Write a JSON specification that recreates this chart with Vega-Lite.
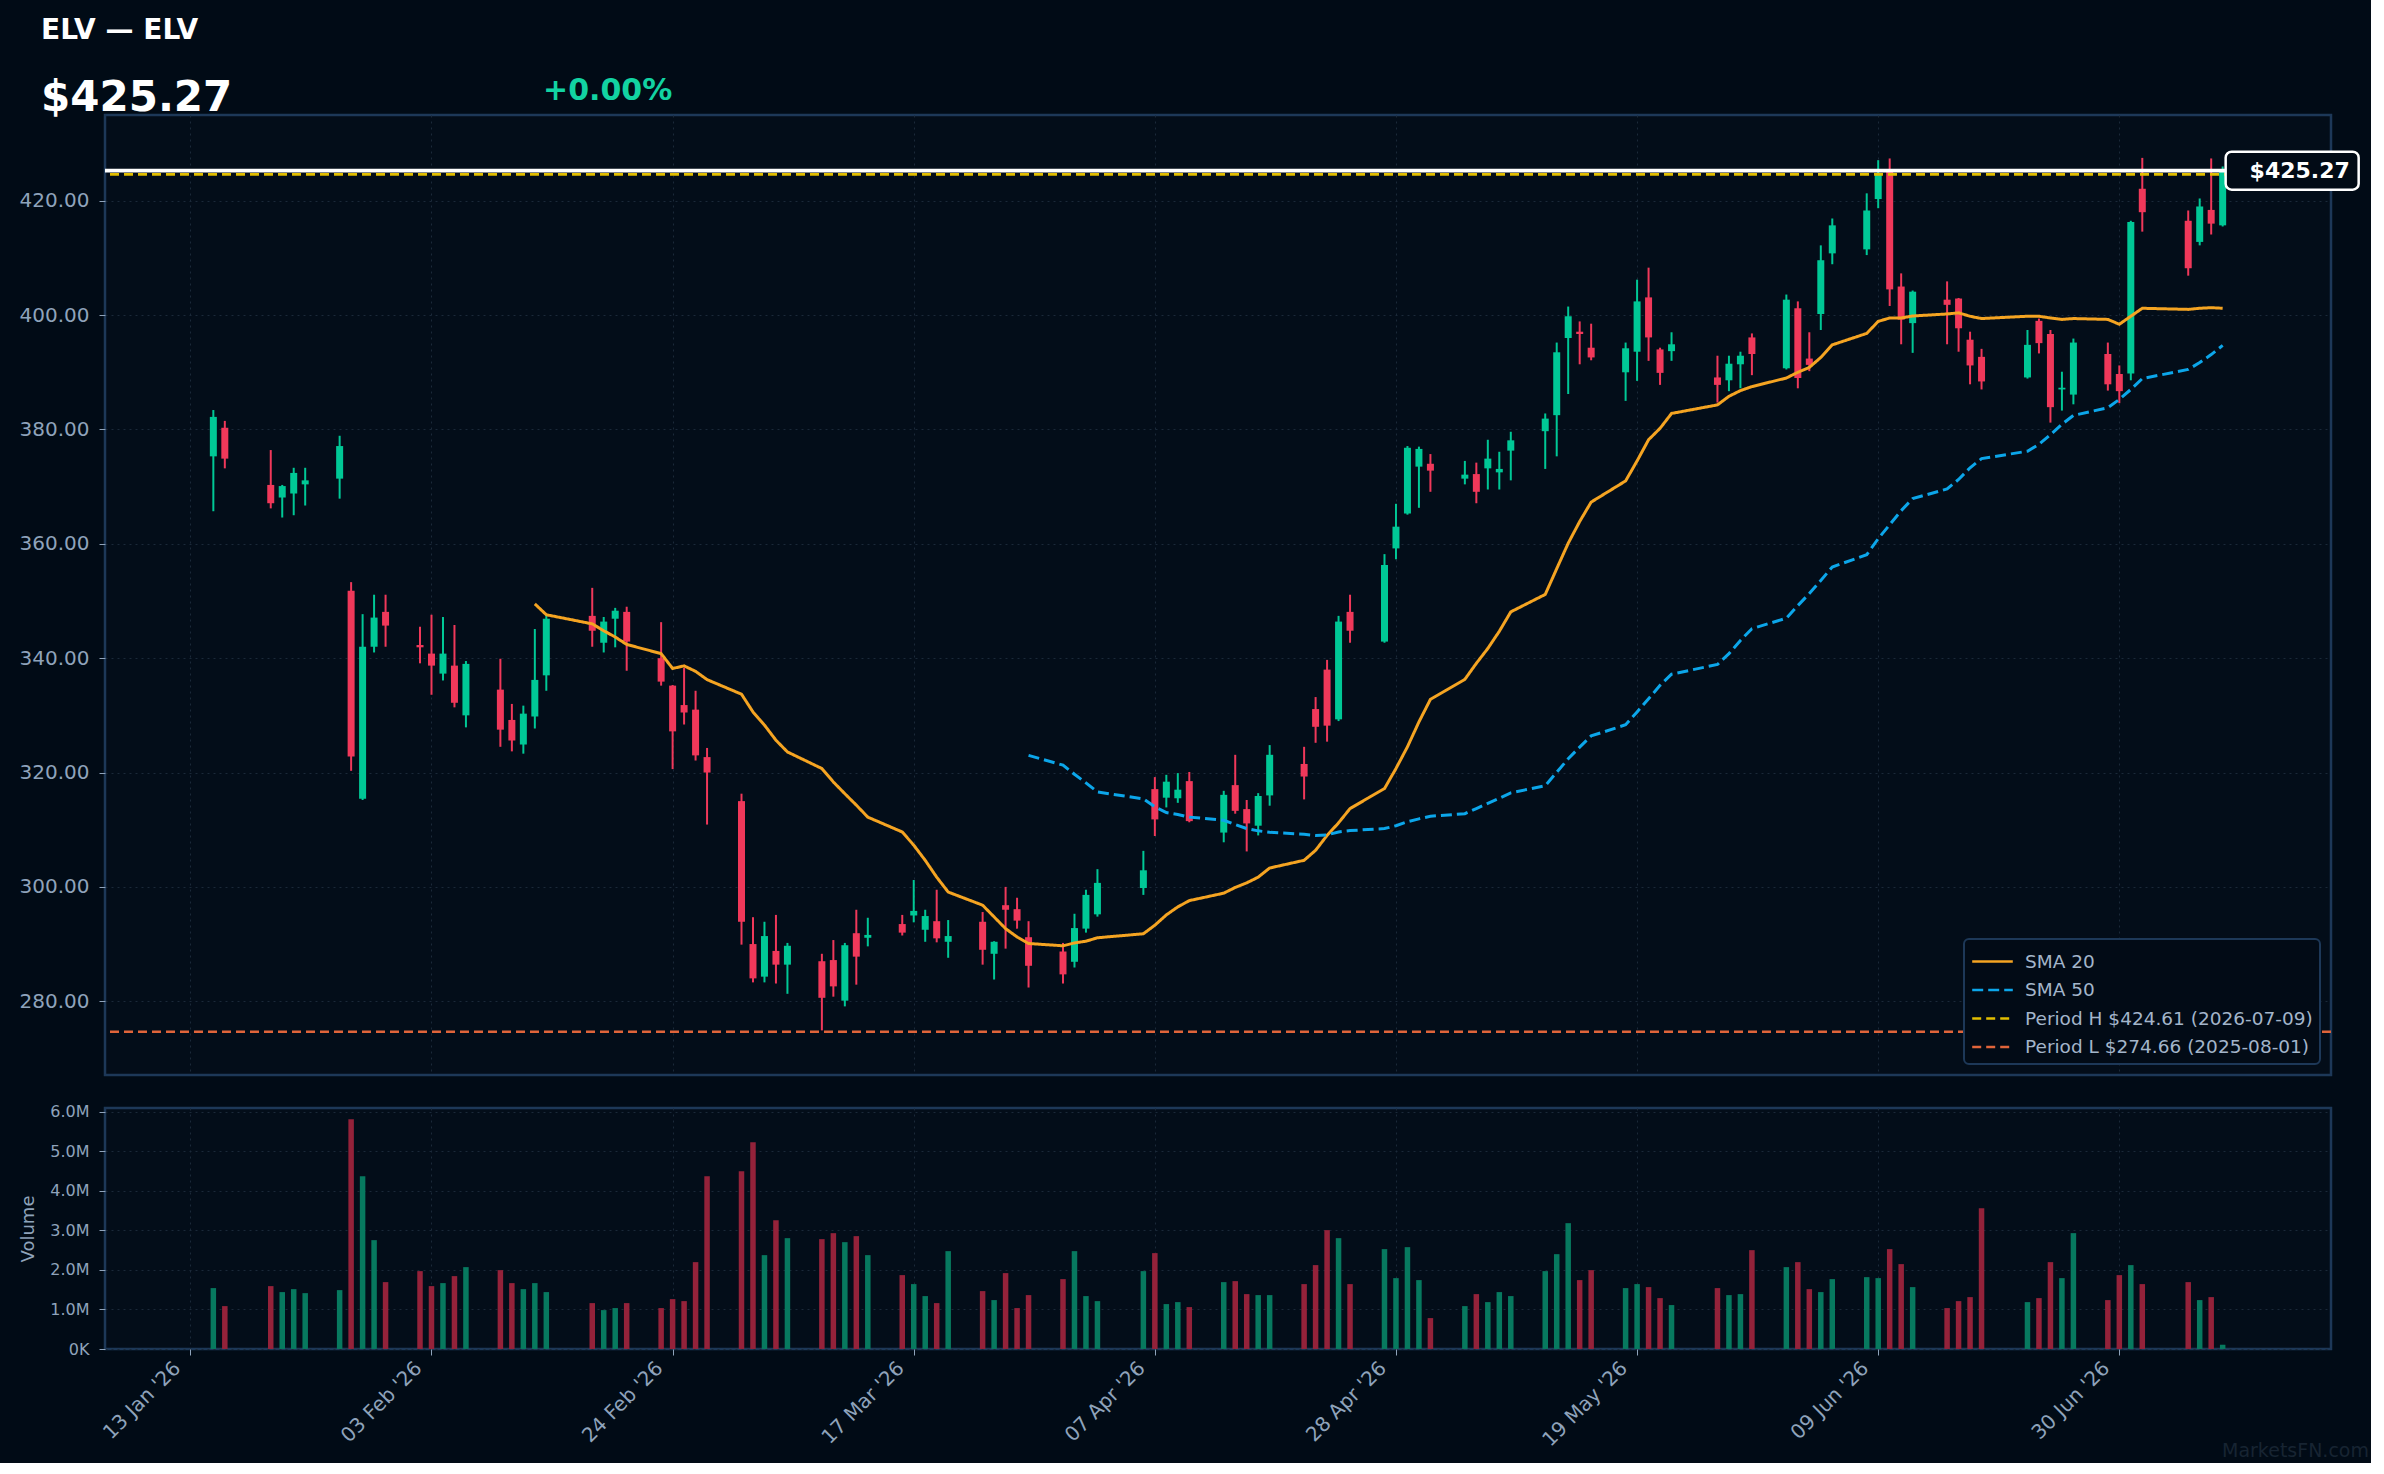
{
  "$schema": "https://vega.github.io/schema/vega-lite/v6.json",
  "background": "#010b16",
  "padding": {"left": 17, "top": 16, "right": 0, "bottom": 0},
  "title": {"text": "ELV — ELV", "subtitle": "$425.27", "anchor": "start", "frame": "group", "dx": -64, "offset": -44, "color": "#ffffff", "font": "DejaVu Sans", "fontSize": 28, "fontWeight": "bold", "subtitleColor": "#ffffff", "subtitleFont": "DejaVu Sans", "subtitleFontSize": 42, "subtitleFontWeight": "bold", "subtitlePadding": 33},
  "datasets": {
    "candles": [
      {"date":"2026-01-15","open":375.3,"high":383.4,"low":365.7,"close":382.2,"volume":1539000},
      {"date":"2026-01-16","open":380.3,"high":381.5,"low":373.2,"close":374.9,"volume":1084000},
      {"date":"2026-01-20","open":370.3,"high":376.4,"low":366.2,"close":367.1,"volume":1589000},
      {"date":"2026-01-21","open":368.1,"high":370.3,"low":364.6,"close":370.1,"volume":1438000},
      {"date":"2026-01-22","open":368.8,"high":373.3,"low":365.0,"close":372.4,"volume":1513000},
      {"date":"2026-01-23","open":370.4,"high":373.3,"low":366.7,"close":371.1,"volume":1412000},
      {"date":"2026-01-26","open":371.4,"high":378.9,"low":367.9,"close":377.1,"volume":1488000},
      {"date":"2026-01-27","open":351.8,"high":353.3,"low":320.3,"close":322.8,"volume":5806000},
      {"date":"2026-01-28","open":315.4,"high":347.7,"low":315.2,"close":342.0,"volume":4367000},
      {"date":"2026-01-29","open":342.0,"high":351.1,"low":341.0,"close":347.1,"volume":2751000},
      {"date":"2026-01-30","open":348.1,"high":351.1,"low":342.0,"close":345.7,"volume":1690000},
      {"date":"2026-02-02","open":342.3,"high":345.5,"low":339.1,"close":341.9,"volume":1968000},
      {"date":"2026-02-03","open":340.8,"high":347.6,"low":333.6,"close":338.7,"volume":1589000},
      {"date":"2026-02-04","open":337.3,"high":347.2,"low":336.1,"close":340.8,"volume":1665000},
      {"date":"2026-02-05","open":338.7,"high":345.8,"low":331.4,"close":332.2,"volume":1842000},
      {"date":"2026-02-06","open":330.0,"high":339.5,"low":327.9,"close":339.0,"volume":2069000},
      {"date":"2026-02-09","open":334.5,"high":339.9,"low":324.5,"close":327.5,"volume":1993000},
      {"date":"2026-02-10","open":329.2,"high":332.0,"low":323.7,"close":325.6,"volume":1665000},
      {"date":"2026-02-11","open":324.9,"high":331.7,"low":323.3,"close":330.3,"volume":1513000},
      {"date":"2026-02-12","open":329.8,"high":345.1,"low":327.7,"close":336.2,"volume":1665000,"sma20":349.5},
      {"date":"2026-02-13","open":337.0,"high":347.6,"low":334.3,"close":346.9,"volume":1438000,"sma20":347.6},
      {"date":"2026-02-17","open":347.4,"high":352.3,"low":342.0,"close":344.8,"volume":1160000,"sma20":346.0},
      {"date":"2026-02-18","open":342.7,"high":347.2,"low":341.0,"close":346.4,"volume":983000,"sma20":344.8},
      {"date":"2026-02-19","open":346.9,"high":348.8,"low":341.9,"close":348.3,"volume":1034000,"sma20":343.7},
      {"date":"2026-02-20","open":348.1,"high":349.0,"low":337.8,"close":342.9,"volume":1160000,"sma20":342.4},
      {"date":"2026-02-23","open":340.0,"high":346.3,"low":335.2,"close":335.9,"volume":1034000,"sma20":340.8},
      {"date":"2026-02-24","open":335.2,"high":335.3,"low":320.6,"close":327.2,"volume":1261000,"sma20":338.2},
      {"date":"2026-02-25","open":331.8,"high":338.3,"low":328.4,"close":330.5,"volume":1210000,"sma20":338.65},
      {"date":"2026-02-26","open":331.0,"high":334.3,"low":322.1,"close":323.0,"volume":2195000,"sma20":337.7},
      {"date":"2026-02-27","open":322.7,"high":324.3,"low":310.9,"close":320.0,"volume":4367000,"sma20":336.25},
      {"date":"2026-03-02","open":315.0,"high":316.3,"low":289.9,"close":293.9,"volume":4493000,"sma20":333.7},
      {"date":"2026-03-03","open":290.0,"high":294.7,"low":283.3,"close":284.0,"volume":5225000,"sma20":330.6},
      {"date":"2026-03-04","open":284.3,"high":293.9,"low":283.3,"close":291.4,"volume":2372000,"sma20":328.3},
      {"date":"2026-03-05","open":288.8,"high":295.1,"low":283.1,"close":286.4,"volume":3256000,"sma20":325.65},
      {"date":"2026-03-06","open":286.4,"high":290.2,"low":281.3,"close":289.7,"volume":2801000,"sma20":323.6},
      {"date":"2026-03-09","open":287.0,"high":288.3,"low":274.9,"close":280.6,"volume":2776000,"sma20":320.7},
      {"date":"2026-03-10","open":287.2,"high":290.7,"low":280.8,"close":282.6,"volume":2927000,"sma20":318.35},
      {"date":"2026-03-11","open":280.1,"high":290.2,"low":279.1,"close":289.8,"volume":2700000,"sma20":316.3},
      {"date":"2026-03-12","open":291.9,"high":296.0,"low":282.9,"close":287.8,"volume":2852000,"sma20":314.3},
      {"date":"2026-03-13","open":291.1,"high":294.6,"low":289.6,"close":291.6,"volume":2372000,"sma20":312.2},
      {"date":"2026-03-16","open":293.5,"high":295.1,"low":291.5,"close":292.0,"volume":1867000,"sma20":309.6},
      {"date":"2026-03-17","open":295.0,"high":301.2,"low":293.8,"close":295.8,"volume":1640000,"sma20":307.3},
      {"date":"2026-03-18","open":292.5,"high":296.0,"low":290.4,"close":294.9,"volume":1337000,"sma20":304.65},
      {"date":"2026-03-19","open":294.0,"high":299.5,"low":290.3,"close":291.0,"volume":1160000,"sma20":301.7},
      {"date":"2026-03-20","open":290.4,"high":294.2,"low":287.6,"close":291.4,"volume":2473000,"sma20":299.1},
      {"date":"2026-03-23","open":293.9,"high":295.6,"low":286.4,"close":289.0,"volume":1463000,"sma20":296.8},
      {"date":"2026-03-24","open":288.3,"high":290.5,"low":283.8,"close":290.4,"volume":1236000,"sma20":294.75},
      {"date":"2026-03-25","open":296.8,"high":300.0,"low":289.2,"close":296.0,"volume":1918000,"sma20":292.7},
      {"date":"2026-03-26","open":296.1,"high":298.1,"low":292.7,"close":294.1,"volume":1034000,"sma20":291.25},
      {"date":"2026-03-27","open":291.2,"high":294.0,"low":282.4,"close":286.2,"volume":1362000,"sma20":290.1,"sma50":323.0},
      {"date":"2026-03-30","open":288.7,"high":290.2,"low":283.1,"close":284.7,"volume":1766000,"sma20":289.7,"sma50":321.3},
      {"date":"2026-03-31","open":286.9,"high":295.3,"low":285.9,"close":292.8,"volume":2473000,"sma20":290.2,"sma50":319.7},
      {"date":"2026-04-01","open":292.7,"high":299.5,"low":292.0,"close":298.6,"volume":1337000,"sma20":290.5,"sma50":318.2},
      {"date":"2026-04-02","open":295.2,"high":303.1,"low":294.8,"close":300.7,"volume":1210000,"sma20":291.1,"sma50":316.6},
      {"date":"2026-04-06","open":299.8,"high":306.3,"low":298.6,"close":302.9,"volume":1968000,"sma20":291.8,"sma50":315.4},
      {"date":"2026-04-07","open":317.1,"high":319.2,"low":308.9,"close":311.8,"volume":2423000,"sma20":293.3,"sma50":314.0},
      {"date":"2026-04-08","open":315.6,"high":319.6,"low":313.9,"close":318.4,"volume":1135000,"sma20":295.1,"sma50":313.0},
      {"date":"2026-04-09","open":315.5,"high":319.9,"low":314.7,"close":317.0,"volume":1185000,"sma20":296.5,"sma50":312.65},
      {"date":"2026-04-10","open":318.5,"high":320.1,"low":311.3,"close":311.5,"volume":1059000,"sma20":297.6,"sma50":312.2},
      {"date":"2026-04-13","open":309.5,"high":316.8,"low":307.8,"close":316.1,"volume":1690000,"sma20":298.9,"sma50":311.65},
      {"date":"2026-04-14","open":317.8,"high":323.1,"low":312.8,"close":313.3,"volume":1715000,"sma20":299.9,"sma50":310.9},
      {"date":"2026-04-15","open":313.6,"high":315.2,"low":306.2,"close":311.1,"volume":1387000,"sma20":300.7,"sma50":310.2},
      {"date":"2026-04-16","open":310.7,"high":316.4,"low":309.0,"close":315.9,"volume":1362000,"sma20":301.7,"sma50":309.8},
      {"date":"2026-04-17","open":316.0,"high":324.8,"low":314.2,"close":323.1,"volume":1362000,"sma20":303.3,"sma50":309.55},
      {"date":"2026-04-20","open":321.5,"high":324.5,"low":315.3,"close":319.3,"volume":1640000,"sma20":304.65,"sma50":309.2},
      {"date":"2026-04-21","open":331.1,"high":333.2,"low":325.2,"close":328.0,"volume":2120000,"sma20":306.4,"sma50":309.0},
      {"date":"2026-04-22","open":338.0,"high":339.7,"low":325.4,"close":328.2,"volume":3004000,"sma20":309.0,"sma50":309.1},
      {"date":"2026-04-23","open":329.3,"high":347.4,"low":329.0,"close":346.4,"volume":2801000,"sma20":311.2,"sma50":309.6},
      {"date":"2026-04-24","open":348.1,"high":351.1,"low":342.7,"close":344.8,"volume":1640000,"sma20":313.7,"sma50":309.85},
      {"date":"2026-04-27","open":342.9,"high":358.2,"low":342.7,"close":356.3,"volume":2524000,"sma20":317.2,"sma50":310.2},
      {"date":"2026-04-28","open":359.2,"high":367.0,"low":357.3,"close":363.0,"volume":1791000,"sma20":320.7,"sma50":310.7},
      {"date":"2026-04-29","open":365.3,"high":377.1,"low":365.1,"close":376.8,"volume":2574000,"sma20":324.5,"sma50":311.4},
      {"date":"2026-04-30","open":373.5,"high":377.0,"low":366.3,"close":376.6,"volume":1741000,"sma20":328.85,"sma50":311.9},
      {"date":"2026-05-01","open":374.0,"high":375.7,"low":369.1,"close":372.8,"volume":781000,"sma20":332.8,"sma50":312.35},
      {"date":"2026-05-04","open":371.4,"high":374.5,"low":370.4,"close":372.1,"volume":1084000,"sma20":336.3,"sma50":312.8},
      {"date":"2026-05-05","open":372.2,"high":374.2,"low":367.1,"close":369.1,"volume":1387000,"sma20":339.1,"sma50":313.7},
      {"date":"2026-05-06","open":373.2,"high":378.2,"low":369.5,"close":374.9,"volume":1185000,"sma20":341.7,"sma50":314.6},
      {"date":"2026-05-07","open":372.5,"high":376.1,"low":369.5,"close":373.1,"volume":1438000,"sma20":344.7,"sma50":315.5},
      {"date":"2026-05-08","open":376.3,"high":379.6,"low":371.1,"close":378.1,"volume":1337000,"sma20":348.1,"sma50":316.45},
      {"date":"2026-05-11","open":379.7,"high":382.8,"low":373.1,"close":381.9,"volume":1968000,"sma20":351.15,"sma50":317.7},
      {"date":"2026-05-12","open":382.5,"high":395.2,"low":375.3,"close":393.5,"volume":2397000,"sma20":355.65,"sma50":320.05},
      {"date":"2026-05-13","open":396.0,"high":401.5,"low":386.2,"close":399.8,"volume":3180000,"sma20":360.1,"sma50":322.4},
      {"date":"2026-05-14","open":397.1,"high":398.9,"low":391.4,"close":396.7,"volume":1741000,"sma20":363.9,"sma50":324.45},
      {"date":"2026-05-15","open":394.3,"high":398.5,"low":392.1,"close":392.6,"volume":1993000,"sma20":367.3,"sma50":326.4},
      {"date":"2026-05-18","open":390.0,"high":395.2,"low":385.0,"close":394.2,"volume":1539000,"sma20":371.0,"sma50":328.35},
      {"date":"2026-05-19","open":393.6,"high":406.2,"low":388.5,"close":402.4,"volume":1640000,"sma20":374.5,"sma50":330.6},
      {"date":"2026-05-20","open":403.1,"high":408.3,"low":392.0,"close":396.1,"volume":1564000,"sma20":378.2,"sma50":332.9},
      {"date":"2026-05-21","open":394.0,"high":394.3,"low":387.8,"close":389.9,"volume":1286000,"sma20":380.2,"sma50":335.25},
      {"date":"2026-05-22","open":393.7,"high":397.0,"low":392.0,"close":394.9,"volume":1110000,"sma20":382.8,"sma50":337.2},
      {"date":"2026-05-26","open":389.1,"high":392.9,"low":384.7,"close":387.8,"volume":1539000,"sma20":384.3,"sma50":338.9},
      {"date":"2026-05-27","open":388.6,"high":392.9,"low":386.7,"close":391.5,"volume":1362000,"sma20":385.8,"sma50":340.8},
      {"date":"2026-05-28","open":391.4,"high":393.6,"low":387.2,"close":392.9,"volume":1387000,"sma20":386.8,"sma50":343.1},
      {"date":"2026-05-29","open":396.1,"high":396.8,"low":389.5,"close":393.2,"volume":2498000,"sma20":387.5,"sma50":345.15},
      {"date":"2026-06-01","open":390.7,"high":403.6,"low":390.5,"close":402.7,"volume":2069000,"sma20":389.0,"sma50":347.0},
      {"date":"2026-06-02","open":401.2,"high":402.4,"low":387.2,"close":389.0,"volume":2195000,"sma20":390.0,"sma50":349.2},
      {"date":"2026-06-03","open":392.4,"high":397.0,"low":390.2,"close":391.3,"volume":1513000,"sma20":390.85,"sma50":351.3},
      {"date":"2026-06-04","open":400.2,"high":412.2,"low":397.4,"close":409.6,"volume":1438000,"sma20":392.6,"sma50":353.6},
      {"date":"2026-06-05","open":410.8,"high":416.9,"low":408.9,"close":415.7,"volume":1766000,"sma20":394.8,"sma50":355.95},
      {"date":"2026-06-08","open":411.5,"high":421.3,"low":410.5,"close":418.3,"volume":1816000,"sma20":396.8,"sma50":358.1},
      {"date":"2026-06-09","open":420.3,"high":427.1,"low":418.7,"close":424.7,"volume":1791000,"sma20":398.9,"sma50":360.9},
      {"date":"2026-06-10","open":425.2,"high":427.4,"low":401.6,"close":404.5,"volume":2524000,"sma20":399.5,"sma50":363.35},
      {"date":"2026-06-11","open":405.0,"high":407.3,"low":394.9,"close":399.2,"volume":2145000,"sma20":399.5,"sma50":365.8},
      {"date":"2026-06-12","open":398.6,"high":404.3,"low":393.4,"close":404.1,"volume":1564000,"sma20":399.85,"sma50":367.9},
      {"date":"2026-06-15","open":402.7,"high":405.9,"low":394.9,"close":401.8,"volume":1034000,"sma20":400.2,"sma50":369.6},
      {"date":"2026-06-16","open":402.9,"high":403.0,"low":393.6,"close":397.7,"volume":1210000,"sma20":400.4,"sma50":371.25},
      {"date":"2026-06-17","open":395.7,"high":397.1,"low":387.9,"close":391.2,"volume":1311000,"sma20":399.8,"sma50":373.3},
      {"date":"2026-06-18","open":392.7,"high":394.1,"low":387.0,"close":388.4,"volume":3559000,"sma20":399.4,"sma50":374.9},
      {"date":"2026-06-22","open":389.1,"high":397.4,"low":388.9,"close":394.8,"volume":1185000,"sma20":399.8,"sma50":376.2},
      {"date":"2026-06-23","open":399.0,"high":399.4,"low":393.3,"close":395.1,"volume":1286000,"sma20":399.8,"sma50":377.4},
      {"date":"2026-06-24","open":396.7,"high":397.4,"low":381.2,"close":383.9,"volume":2195000,"sma20":399.5,"sma50":379.1},
      {"date":"2026-06-25","open":387.0,"high":390.1,"low":383.3,"close":387.3,"volume":1791000,"sma20":399.25,"sma50":380.9},
      {"date":"2026-06-26","open":386.1,"high":395.9,"low":384.4,"close":395.2,"volume":2928000,"sma20":399.4,"sma50":382.45},
      {"date":"2026-06-29","open":393.2,"high":395.2,"low":386.8,"close":387.9,"volume":1236000,"sma20":399.25,"sma50":383.8},
      {"date":"2026-06-30","open":389.7,"high":391.2,"low":384.6,"close":386.7,"volume":1867000,"sma20":398.4,"sma50":385.25},
      {"date":"2026-07-01","open":389.8,"high":416.5,"low":388.6,"close":416.3,"volume":2120000,"sma20":399.8,"sma50":387.0},
      {"date":"2026-07-02","open":422.1,"high":427.5,"low":414.6,"close":418.0,"volume":1640000,"sma20":401.2,"sma50":388.9},
      {"date":"2026-07-06","open":416.5,"high":418.3,"low":406.9,"close":408.2,"volume":1690000,"sma20":401.0,"sma50":390.5},
      {"date":"2026-07-07","open":412.8,"high":420.4,"low":412.2,"close":419.0,"volume":1236000,"sma20":401.2,"sma50":391.7},
      {"date":"2026-07-08","open":418.4,"high":427.4,"low":414.1,"close":416.0,"volume":1311000,"sma20":401.3,"sma50":393.1},
      {"date":"2026-07-09","open":415.7,"high":426.0,"low":415.5,"close":425.27,"volume":108000,"sma20":401.2,"sma50":394.7}
    ],
    "levels": [
      {"series": "Period H $424.61 (2026-07-09)", "price": 424.61},
      {"series": "Period L $274.66 (2025-08-01)", "price": 274.66}
    ],
    "last": [
      {"date": "2026-07-09", "price": 425.27, "label": "$425.27"}
    ]
  },
  "spacing": 25,
  "resolve": {"scale": {"color": "independent", "strokeDash": "independent"}, "legend": {"color": "independent", "strokeDash": "independent"}},
  "vconcat": [
    {
      "width": 2226,
      "height": 960,
      "title": {"text": "+0.00%", "anchor": "start", "frame": "group", "dx": 438, "offset": 9, "color": "#12d3a2", "font": "DejaVu Sans", "fontSize": 30, "fontWeight": "bold"},
      "layer": [
        {
          "data": {"name": "candles"},
          "mark": {"type": "rule", "strokeWidth": 2},
          "encoding": {
            "x": {"field": "date", "type": "temporal", "title": null,
                  "scale": {"type": "utc", "domain": [{"year": 2026, "month": 1, "date": 6, "utc": true}, {"year": 2026, "month": 7, "date": 18, "utc": true}]},
                  "axis": {"values": [{"year":2026,"month":1,"date":13,"utc":true},{"year":2026,"month":2,"date":3,"utc":true},{"year":2026,"month":2,"date":24,"utc":true},{"year":2026,"month":3,"date":17,"utc":true},{"year":2026,"month":4,"date":7,"utc":true},{"year":2026,"month":4,"date":28,"utc":true},{"year":2026,"month":5,"date":19,"utc":true},{"year":2026,"month":6,"date":9,"utc":true},{"year":2026,"month":6,"date":30,"utc":true}],
                           "labels": false, "ticks": false, "domain": false, "grid": true, "title": null}},
            "y": {"field": "low", "type": "quantitative", "title": null,
                  "scale": {"domain": [267.1, 435.0], "nice": false, "zero": false},
                  "axis": {"values": [280, 300, 320, 340, 360, 380, 400, 420], "format": ".2f", "labelFontSize": 20, "tickSize": 6, "labelPadding": 10, "grid": true, "title": null}},
            "y2": {"field": "high"},
            "color": {"condition": {"test": "datum.close >= datum.open", "value": "#00c896"}, "value": "#f0385a"}
          }
        },
        {
          "data": {"name": "candles"},
          "mark": {"type": "bar", "size": 7},
          "encoding": {
            "x": {"field": "date", "type": "temporal", "title": null},
            "y": {"field": "open", "type": "quantitative", "title": null},
            "y2": {"field": "close"},
            "color": {"condition": {"test": "datum.close >= datum.open", "value": "#00c896"}, "value": "#f0385a"}
          }
        },
        {
          "data": {"name": "candles"},
          "transform": [{"fold": ["sma20", "sma50"], "as": ["series", "value"]}],
          "mark": {"type": "line", "strokeWidth": 3},
          "encoding": {
            "x": {"field": "date", "type": "temporal", "title": null},
            "y": {"field": "value", "type": "quantitative", "title": null},
            "color": {"field": "series", "type": "nominal", "title": null,
                      "scale": {"domain": ["sma20", "sma50", "Period H $424.61 (2026-07-09)", "Period L $274.66 (2025-08-01)"], "range": ["#f5a422", "#0ca6ea", "#e2be00", "#e0643a"]},
                      "legend": {"title": null, "rowPadding": 3.5, "labelExpr": "datum.label == 'sma20' ? 'SMA 20' : datum.label == 'sma50' ? 'SMA 50' : datum.label"}},
            "strokeDash": {"field": "series", "type": "nominal", "title": null,
                      "scale": {"domain": ["sma20", "sma50", "Period H $424.61 (2026-07-09)", "Period L $274.66 (2025-08-01)"], "range": [[1, 0], [11, 5], [9, 5], [9, 5]]},
                      "legend": {"title": null, "rowPadding": 3.5, "labelExpr": "datum.label == 'sma20' ? 'SMA 20' : datum.label == 'sma50' ? 'SMA 50' : datum.label"}}
          }
        },
        {
          "data": {"name": "levels"},
          "mark": {"type": "rule", "strokeWidth": 2.6},
          "encoding": {
            "y": {"field": "price", "type": "quantitative", "title": null},
            "color": {"field": "series", "type": "nominal", "title": null},
            "strokeDash": {"field": "series", "type": "nominal", "title": null}
          }
        },
        {
          "data": {"name": "last"},
          "mark": {"type": "rule", "strokeWidth": 3.8, "color": "#ffffff"},
          "encoding": {
            "y": {"field": "price", "type": "quantitative", "title": null}
          }
        },
        {
          "data": {"name": "last"},
          "mark": {"type": "rect", "fill": "#020b16", "stroke": "#ffffff", "strokeWidth": 2.5, "cornerRadius": 6, "xOffset": 3, "x2Offset": 136, "yOffset": -19, "y2Offset": 19},
          "encoding": {
            "x": {"field": "date", "type": "temporal", "title": null},
            "x2": {"field": "date"},
            "y": {"field": "price", "type": "quantitative", "title": null},
            "y2": {"field": "price"}
          }
        },
        {
          "data": {"name": "last"},
          "mark": {"type": "text", "dx": 77, "align": "center", "baseline": "middle", "fontSize": 22, "fontWeight": "bold", "color": "#ffffff", "font": "DejaVu Sans"},
          "encoding": {
            "x": {"field": "date", "type": "temporal", "title": null},
            "y": {"field": "price", "type": "quantitative", "title": null},
            "text": {"field": "label"}
          }
        }
      ]
    },
    {
      "width": 2226,
      "height": 241,
      "title": {"text": "MarketsFN.com", "orient": "bottom", "anchor": "end", "frame": "group", "dx": 38, "offset": -8, "color": "#172432", "font": "DejaVu Sans", "fontSize": 19, "fontWeight": "normal"},
      "data": {"name": "candles"},
      "mark": {"type": "bar", "size": 5.5},
      "encoding": {
        "x": {"field": "date", "type": "temporal", "title": null,
              "scale": {"type": "utc", "domain": [{"year": 2026, "month": 1, "date": 6, "utc": true}, {"year": 2026, "month": 7, "date": 18, "utc": true}]},
              "axis": {"values": [{"year":2026,"month":1,"date":13,"utc":true},{"year":2026,"month":2,"date":3,"utc":true},{"year":2026,"month":2,"date":24,"utc":true},{"year":2026,"month":3,"date":17,"utc":true},{"year":2026,"month":4,"date":7,"utc":true},{"year":2026,"month":4,"date":28,"utc":true},{"year":2026,"month":5,"date":19,"utc":true},{"year":2026,"month":6,"date":9,"utc":true},{"year":2026,"month":6,"date":30,"utc":true}],
                       "format": "%d %b '%y", "labelAngle": -45, "labelAlign": "right", "labelBaseline": "alphabetic", "labelFontSize": 20, "labelPadding": 14, "labelOffset": -9, "tickSize": 6, "grid": true, "domain": false, "title": null}},
        "y": {"field": "volume", "type": "quantitative",
              "scale": {"domain": [0, 6090000], "nice": false},
              "axis": {"values": [0, 1000000, 2000000, 3000000, 4000000, 5000000, 6000000], "labelExpr": "datum.value == 0 ? '0K' : format(datum.value / 1000000, '.1f') + 'M'", "labelFontSize": 16, "tickSize": 6, "labelPadding": 10, "grid": true, "title": "Volume", "titleFontSize": 18, "titlePadding": 8, "titleFontWeight": "normal", "minExtent": 60, "maxExtent": 60}},
        "color": {"condition": {"test": "datum.close >= datum.open", "value": "#07795f"}, "value": "#94223a"}
      }
    }
  ],
  "config": {
    "font": "DejaVu Sans",
    "view": {"fill": "#030d19", "stroke": "#1d3858", "strokeWidth": 2.5},
    "axis": {"labelColor": "#8fa3bb", "tickColor": "#8fa3bb", "titleColor": "#8fa3bb", "gridColor": "#1b2939", "gridDash": [2, 4], "gridWidth": 1, "domain": false, "labelFont": "DejaVu Sans", "titleFont": "DejaVu Sans"},
    "legend": {"orient": "bottom-right", "offset": 11, "direction": "vertical", "fillColor": "#020b16", "strokeColor": "#1d3858", "strokeWidth": 2, "cornerRadius": 5, "padding": 7, "labelFont": "DejaVu Sans", "labelFontSize": 18.5, "labelColor": "#a3b5ca", "symbolType": "M-1.45,0H1.45", "symbolSize": 784, "symbolStrokeWidth": 2.6, "symbolOffset": 6, "rowPadding": 3.5, "labelOffset": 17, "labelLimit": 600}
  }
}
